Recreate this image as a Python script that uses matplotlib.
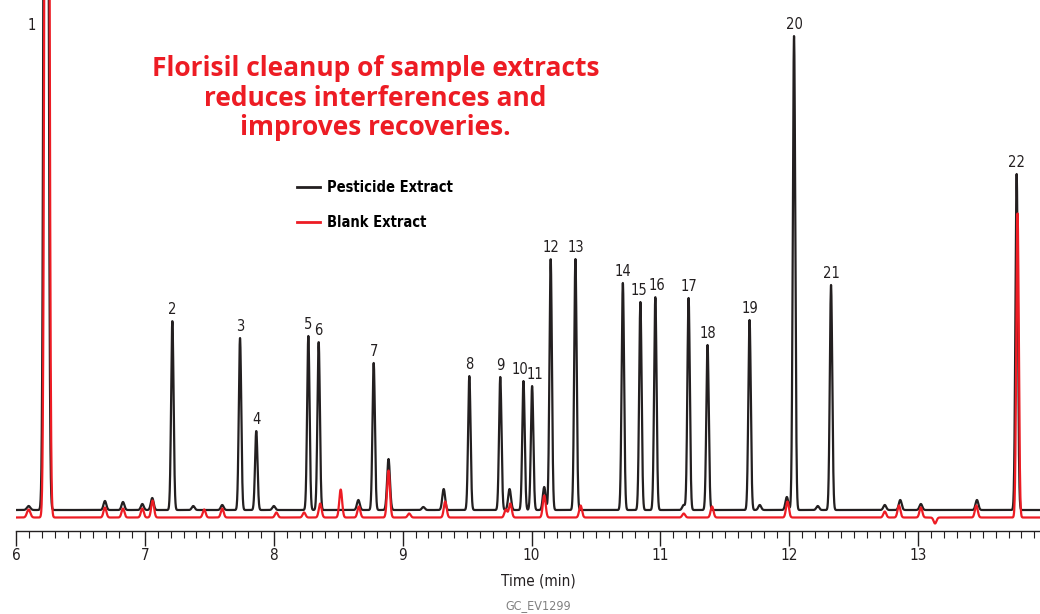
import numpy as np
import matplotlib
matplotlib.use('Agg')
import matplotlib.pyplot as plt

# peak tables (time in min, height in arbitrary units)
black_t = [6.098, 6.233, 6.69, 6.83, 6.98, 7.057, 7.213, 7.375, 7.60, 7.738, 7.864, 8.0,
           8.268, 8.348, 8.656, 8.775, 8.89, 9.16, 9.318, 9.517, 9.757, 9.829, 9.937,
           10.004, 10.098, 10.148, 10.34, 10.708, 10.844, 10.96, 11.18, 11.218, 11.365,
           11.691, 11.77, 11.98, 12.036, 12.22, 12.323, 12.74, 12.86, 13.02, 13.455, 13.763]
black_h = [4, 2000, 9, 8, 6, 12, 189, 4, 5, 172, 79, 4,
           174, 168, 10, 147, 51, 3, 21, 134, 133, 21, 129,
           124, 23, 251, 251, 227, 208, 213, 5, 212, 165,
           190, 5, 13, 474, 4, 225, 5, 10, 6, 10, 336]

red_t = [6.098, 6.24, 6.69, 6.83, 6.98, 7.06, 7.46, 7.60, 8.02, 8.235, 8.36, 8.519,
         8.66, 8.89, 9.05, 9.33, 9.80, 9.835, 10.098, 10.38, 11.18, 11.40, 11.985,
         12.74, 12.85, 13.02, 13.13, 13.45, 13.77]
red_h = [8, 2000, 10, 9, 9, 17, 8, 9, 5, 5, 14, 28,
         11, 47, 4, 16, 8, 14, 22, 12, 4, 11, 16,
         6, 12, 10, -6, 12, 304]

labels = [str(i) for i in range(1, 23)]
label_t = [6.233, 7.213, 7.738, 7.864, 8.268, 8.348, 8.775, 9.517, 9.757, 9.937, 10.004,
           10.148, 10.34, 10.708, 10.844, 10.96, 11.218, 11.365, 11.691, 12.036, 12.323, 13.763]
label_h = [2000, 189, 172, 79, 174, 168, 147, 134, 133, 129, 124,
           251, 251, 227, 208, 213, 212, 165, 190, 474, 225, 336]
# small sideways nudges (min) where labels crowd
label_dx = {'1': -0.11, '10': -0.025, '11': 0.02, '15': -0.01, '16': 0.01}

black_base = 21.0
red_base = 13.5

t = np.linspace(6.0, 13.95, 8000)

def trace(times, heights, base):
    y = np.full_like(t, base)
    for tc, h in zip(times, heights):
        s = 0.011 if abs(h) < 60 else 0.0095
        if tc < 6.3:
            s = 0.013
        y += h * np.exp(-0.5 * ((t - tc) / s) ** 2)
    return y

black_y = trace(black_t, black_h, black_base)
red_y = trace(red_t, red_h, red_base)

plt.rcParams['font.family'] = ['DejaVu Sans']
plt.rcParams['font.stretch'] = 'condensed'

fig = plt.figure(figsize=(10.4, 6.14), dpi=100)
ax = fig.add_axes([16/1040, (614-531)/614, 1024/1040, 531/614])
ax.plot(t, black_y, color='#231F20', lw=1.6, label='Pesticide Extract', solid_joinstyle='round')
ax.plot(t, red_y, color='#ED1C24', lw=1.6, label='Blank Extract', solid_joinstyle='round')
ax.set_xlim(6.0, 6.0 + 1024/128.9)
ax.set_ylim(0, 531)

for sp in ['left', 'right', 'top']:
    ax.spines[sp].set_visible(False)
ax.spines['bottom'].set_color('#231F20')
ax.spines['bottom'].set_linewidth(1.0)
ax.set_yticks([])
ax.set_xticks(range(6, 14))
ax.set_xticks(np.arange(6.0, 13.95, 0.1), minor=True)
ax.tick_params(axis='x', which='major', length=11, width=1.0, color='#231F20',
               labelsize=11, labelcolor='#231F20', pad=1)
ax.tick_params(axis='x', which='minor', length=5, width=0.8, color='#231F20')

for lab, tc, h in zip(labels, label_t, label_h):
    dx = label_dx.get(lab, 0.0)
    if lab == '1':
        ax.text(tc + dx, 506, lab, ha='center', va='center', fontsize=10.5, color='#231F20')
        continue
    ax.text(tc + dx, black_base + h + 4, lab, ha='center', va='bottom', fontsize=10.5, color='#231F20')

ax.text(0.351, 0.815, 'Florisil cleanup of sample extracts\nreduces interferences and\nimproves recoveries.',
        transform=ax.transAxes, ha='center', va='center', fontsize=19, fontweight='bold',
        color='#ED1C24', family=['Open Sans', 'DejaVu Sans'], stretch='normal', linespacing=1.12)

leg = ax.legend(loc='upper left', bbox_to_anchor=(0.262, 0.685), frameon=False,
                handlelength=1.55, handletextpad=0.45, labelspacing=1.35,
                prop={'size': 10.5, 'weight': 'bold'})
for line in leg.get_lines():
    line.set_linewidth(2.0)

fig.text(538/1040, 1 - 581/614, 'Time (min)', ha='center', va='center', fontsize=11, color='#231F20')
fig.text(538/1040, 1 - 606/614, 'GC_EV1299', ha='center', va='center', fontsize=9, color='#808080')

fig.savefig('out.png', dpi=100)
